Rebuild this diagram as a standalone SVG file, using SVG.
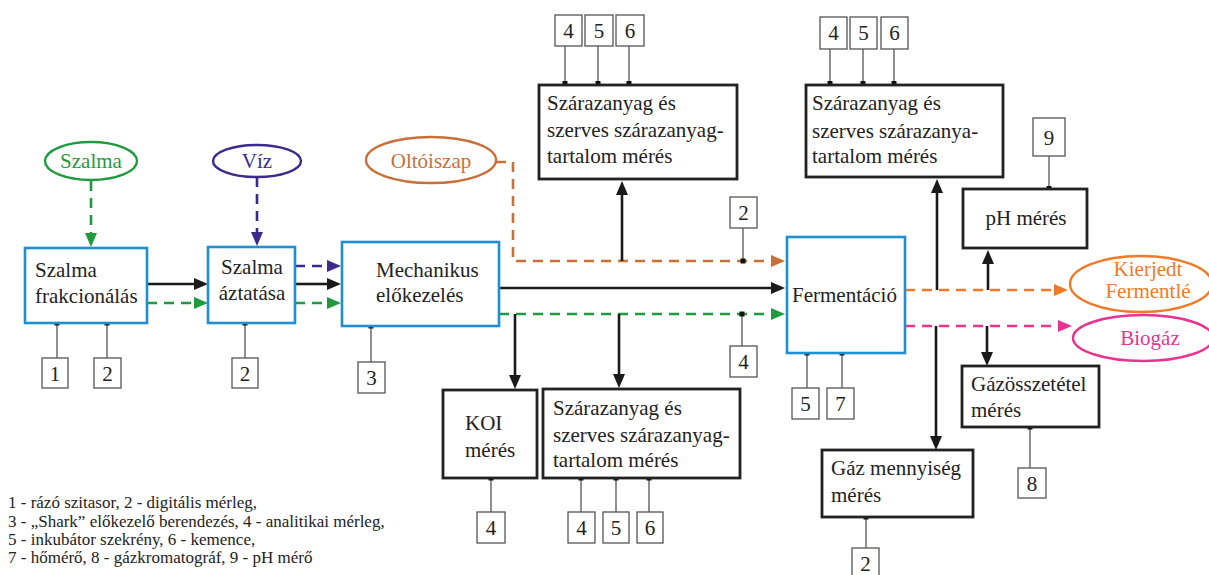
<svg xmlns="http://www.w3.org/2000/svg" width="1209" height="575" viewBox="0 0 1209 575" font-family="Liberation Serif, serif">
<style>
text{font-size:21px;fill:#222}
.blue{fill:#fff;stroke:#1e8fd0;stroke-width:2.6}
.blk{fill:#fff;stroke:#222;stroke-width:2.8}
.ins{fill:#fff;stroke:#555;stroke-width:1.3}
.il{stroke:#555;stroke-width:1.3}
.dot{fill:#111}
.num{text-anchor:middle}
.a{fill:none;stroke:#1a1a1a;stroke-width:2.6}
.d{fill:none;stroke-width:2.6;stroke-dasharray:10 7}
.g{stroke:#1f9a3e}.p{stroke:#3b2a8c}.o{stroke:#c96f3a}.or{stroke:#f07a28}.pk{stroke:#e8338f}
.leg{font-size:17px}
</style>
<defs>
<marker id="mk" viewBox="0 -6 14 12" refX="0" refY="0" markerWidth="14" markerHeight="12" markerUnits="userSpaceOnUse" orient="auto"><path d="M0,-6 L14,0 L0,6 z" fill="#1a1a1a"/></marker>
<marker id="mg" viewBox="0 -6 14 12" refX="0" refY="0" markerWidth="14" markerHeight="12" markerUnits="userSpaceOnUse" orient="auto"><path d="M0,-6 L14,0 L0,6 z" fill="#1f9a3e"/></marker>
<marker id="mp" viewBox="0 -6 14 12" refX="0" refY="0" markerWidth="14" markerHeight="12" markerUnits="userSpaceOnUse" orient="auto"><path d="M0,-6 L14,0 L0,6 z" fill="#3b2a8c"/></marker>
<marker id="mo" viewBox="0 -6 14 12" refX="0" refY="0" markerWidth="14" markerHeight="12" markerUnits="userSpaceOnUse" orient="auto"><path d="M0,-6 L14,0 L0,6 z" fill="#c96f3a"/></marker>
<marker id="mor" viewBox="0 -6 14 12" refX="0" refY="0" markerWidth="14" markerHeight="12" markerUnits="userSpaceOnUse" orient="auto"><path d="M0,-6 L14,0 L0,6 z" fill="#f07a28"/></marker>
<marker id="mpk" viewBox="0 -6 14 12" refX="0" refY="0" markerWidth="14" markerHeight="12" markerUnits="userSpaceOnUse" orient="auto"><path d="M0,-6 L14,0 L0,6 z" fill="#e8338f"/></marker>
</defs>
<rect width="1209" height="575" fill="#fff"/>

<g id="connectors">
<path class="d g" d="M91,181 V233" marker-end="url(#mg)"/>
<path class="d p" d="M257,177 V232" marker-end="url(#mp)"/>
<path class="a" d="M147,284 H194" marker-end="url(#mk)"/>
<path class="d g" d="M147,303 H194" marker-end="url(#mg)"/>
<path class="d p" d="M295,266 H327" marker-end="url(#mp)"/>
<path class="a" d="M295,284 H327" marker-end="url(#mk)"/>
<path class="d g" d="M295,303 H327" marker-end="url(#mg)"/>
<path class="a" d="M499,288 H771" marker-end="url(#mk)"/>
<path class="d g" d="M499,314 H771" marker-end="url(#mg)"/>
<path class="d o" d="M496,162 H513 V261 H771" marker-end="url(#mo)"/>
<path class="a" d="M622,261 V195" marker-end="url(#mk)"/>
<path class="a" d="M515,314 V375" marker-end="url(#mk)"/>
<path class="a" d="M619,314 V374" marker-end="url(#mk)"/>
<path class="d or" d="M905,290 H1054" marker-end="url(#mor)"/>
<path class="d pk" d="M905,326 H1058" marker-end="url(#mpk)"/>
<path class="a" d="M937,290 V193" marker-end="url(#mk)"/>
<path class="a" d="M988,290 V264" marker-end="url(#mk)"/>
<path class="a" d="M936,326 V436" marker-end="url(#mk)"/>
<path class="a" d="M987,326 V352" marker-end="url(#mk)"/>
<g>
<path class="il" d="M57,323 V358 M107,323 V358 M245,323 V358 M371,326 V362 M565,46 V85 M598,46 V85 M629,46 V85 M743,228 V261 M742,314 V346 M830,49 V85 M863,49 V85 M894,49 V85 M1049,156 V189 M807,353 V388 M842,353 V388 M866,517 V548 M1030,427 V468 M491,478 V512 M581,478 V512 M616,478 V512 M649,478 V512"/>
<rect class="dot" x="54.5" y="320.5" width="5" height="5"/><rect class="dot" x="104.5" y="320.5" width="5" height="5"/>
<rect class="dot" x="242.5" y="320.5" width="5" height="5"/><rect class="dot" x="368.5" y="323.5" width="5" height="5"/>
<rect class="dot" x="562.5" y="81" width="5" height="5"/><rect class="dot" x="595.5" y="81" width="5" height="5"/><rect class="dot" x="626.5" y="81" width="5" height="5"/>
<rect class="dot" x="740.5" y="258.5" width="5" height="5"/><rect class="dot" x="739.5" y="311.5" width="5" height="5"/>
<rect class="dot" x="827.5" y="81" width="5" height="5"/><rect class="dot" x="860.5" y="81" width="5" height="5"/><rect class="dot" x="891.5" y="81" width="5" height="5"/>
<rect class="dot" x="1046.5" y="186" width="5" height="5"/>
<rect class="dot" x="804.5" y="350.5" width="5" height="5"/><rect class="dot" x="839.5" y="350.5" width="5" height="5"/>
<rect class="dot" x="863.5" y="514.5" width="5" height="5"/><rect class="dot" x="1027.5" y="424.5" width="5" height="5"/>
<rect class="dot" x="488.5" y="475.5" width="5" height="5"/><rect class="dot" x="578.5" y="475.5" width="5" height="5"/><rect class="dot" x="613.5" y="475.5" width="5" height="5"/><rect class="dot" x="646.5" y="475.5" width="5" height="5"/>
</g>
</g>

<g id="szalma-in"><ellipse cx="91" cy="161" rx="46" ry="19" fill="#fff" stroke="#1f9a3e" stroke-width="2.4"/><text x="91" y="168" text-anchor="middle" style="fill:#1f9a3e">Szalma</text></g>
<g id="viz-in"><ellipse cx="257" cy="161" rx="44" ry="16" fill="#fff" stroke="#3b2a8c" stroke-width="2.4"/><text x="257" y="168" text-anchor="middle" style="fill:#3b2a8c">Víz</text></g>
<g id="oltoiszap"><ellipse cx="431" cy="160" rx="65" ry="23" fill="#fff" stroke="#c96f3a" stroke-width="2.4"/><text x="431" y="168" text-anchor="middle" style="fill:#c96f3a">Oltóiszap</text></g>

<g id="frakcionalas"><rect class="blue" x="25" y="248" width="122" height="75"/><text x="35" y="277">Szalma</text><text x="35" y="303">frakcionálás</text></g>
<g id="aztatas"><rect class="blue" x="208" y="247" width="87" height="76"/><text x="252" y="274" text-anchor="middle">Szalma</text><text x="252" y="300" text-anchor="middle">áztatása</text></g>
<g id="mechanikus"><rect class="blue" x="342" y="242" width="157" height="84"/><text x="376" y="277">Mechanikus</text><text x="376" y="302">előkezelés</text></g>
<g id="fermentacio"><rect class="blue" x="787" y="237" width="118" height="116"/><text x="792" y="302">Fermentáció</text></g>

<g id="sza1"><rect class="blk" x="539" y="85" width="198" height="94"/><text x="547" y="110">Szárazanyag és</text><text x="547" y="137">szerves szárazanyag-</text><text x="547" y="163">tartalom mérés</text></g>
<g id="sza2"><rect class="blk" x="806" y="85" width="197" height="92"/><text x="812" y="110">Szárazanyag és</text><text x="812" y="138">szerves szárazanya-</text><text x="812" y="163">tartalom mérés</text></g>
<g id="sza3"><rect class="blk" x="543" y="389" width="197" height="89"/><text x="553" y="415">Szárazanyag és</text><text x="553" y="442">szerves szárazanyag-</text><text x="553" y="467">tartalom mérés</text></g>
<g id="koi"><rect class="blk" x="443" y="390" width="94" height="88"/><text x="465" y="430">KOI</text><text x="465" y="457">mérés</text></g>
<g id="ph"><rect class="blk" x="963" y="189" width="124" height="59"/><text x="1026" y="225" text-anchor="middle">pH mérés</text></g>
<g id="gazmenny"><rect class="blk" x="822" y="450" width="151" height="67"/><text x="831" y="475">Gáz mennyiség</text><text x="831" y="502">mérés</text></g>
<g id="gazossz"><rect class="blk" x="962" y="366" width="137" height="61"/><text x="971" y="391">Gázösszetétel</text><text x="971" y="417">mérés</text></g>

<g id="kierjedt"><ellipse cx="1141" cy="284" rx="71" ry="28" fill="#fff" stroke="#f07a28" stroke-width="2.4"/><text x="1148" y="276" text-anchor="middle" style="fill:#f07a28">Kierjedt</text><text x="1148" y="298" text-anchor="middle" style="fill:#f07a28">Fermentlé</text></g>
<g id="biogaz"><ellipse cx="1143" cy="338" rx="70" ry="23" fill="#fff" stroke="#e8338f" stroke-width="2.4"/><text x="1150" y="345" text-anchor="middle" style="fill:#e8338f">Biogáz</text></g>

<g id="instruments">
<rect class="ins" x="42" y="358" width="26" height="30"/><text class="num" x="55" y="381">1</text>
<rect class="ins" x="94" y="358" width="27" height="30"/><text class="num" x="107.5" y="381">2</text>
<rect class="ins" x="232" y="358" width="26" height="30"/><text class="num" x="245" y="381">2</text>
<rect class="ins" x="358" y="362" width="27" height="31"/><text class="num" x="371.5" y="385">3</text>
<rect class="ins" x="555" y="15" width="27" height="31"/><text class="num" x="568.5" y="38">4</text>
<rect class="ins" x="585" y="15" width="28" height="31"/><text class="num" x="599" y="38">5</text>
<rect class="ins" x="616" y="15" width="28" height="31"/><text class="num" x="630" y="38">6</text>
<rect class="ins" x="730" y="197" width="27" height="31"/><text class="num" x="743.5" y="220">2</text>
<rect class="ins" x="730" y="346" width="27" height="31"/><text class="num" x="743.5" y="369">4</text>
<rect class="ins" x="820" y="17" width="27" height="32"/><text class="num" x="833.5" y="40">4</text>
<rect class="ins" x="850" y="17" width="27" height="32"/><text class="num" x="863.5" y="40">5</text>
<rect class="ins" x="881" y="17" width="27" height="32"/><text class="num" x="894.5" y="40">6</text>
<rect class="ins" x="1033" y="118" width="32" height="38"/><text class="num" x="1049" y="145">9</text>
<rect class="ins" x="792" y="388" width="27" height="31"/><text class="num" x="805.5" y="411">5</text>
<rect class="ins" x="827" y="388" width="27" height="31"/><text class="num" x="840.5" y="411">7</text>
<rect class="ins" x="852" y="548" width="27" height="31"/><text class="num" x="865.5" y="571">2</text>
<rect class="ins" x="1018" y="468" width="28" height="30"/><text class="num" x="1032" y="491">8</text>
<rect class="ins" x="477" y="512" width="28" height="31"/><text class="num" x="491" y="535">4</text>
<rect class="ins" x="568" y="512" width="27" height="31"/><text class="num" x="581.5" y="535">4</text>
<rect class="ins" x="603" y="512" width="26" height="31"/><text class="num" x="616" y="535">5</text>
<rect class="ins" x="637" y="512" width="26" height="31"/><text class="num" x="650" y="535">6</text>
</g>

<g id="legend">
<text class="leg" x="8" y="508">1 - rázó szitasor, 2 - digitális mérleg,</text>
<text class="leg" x="8" y="527">3 - „Shark” előkezelő berendezés, 4 - analitikai mérleg,</text>
<text class="leg" x="8" y="545">5 - inkubátor szekrény, 6 - kemence,</text>
<text class="leg" x="8" y="563">7 - hőmérő, 8 - gázkromatográf, 9 - pH mérő</text>
</g>
</svg>
